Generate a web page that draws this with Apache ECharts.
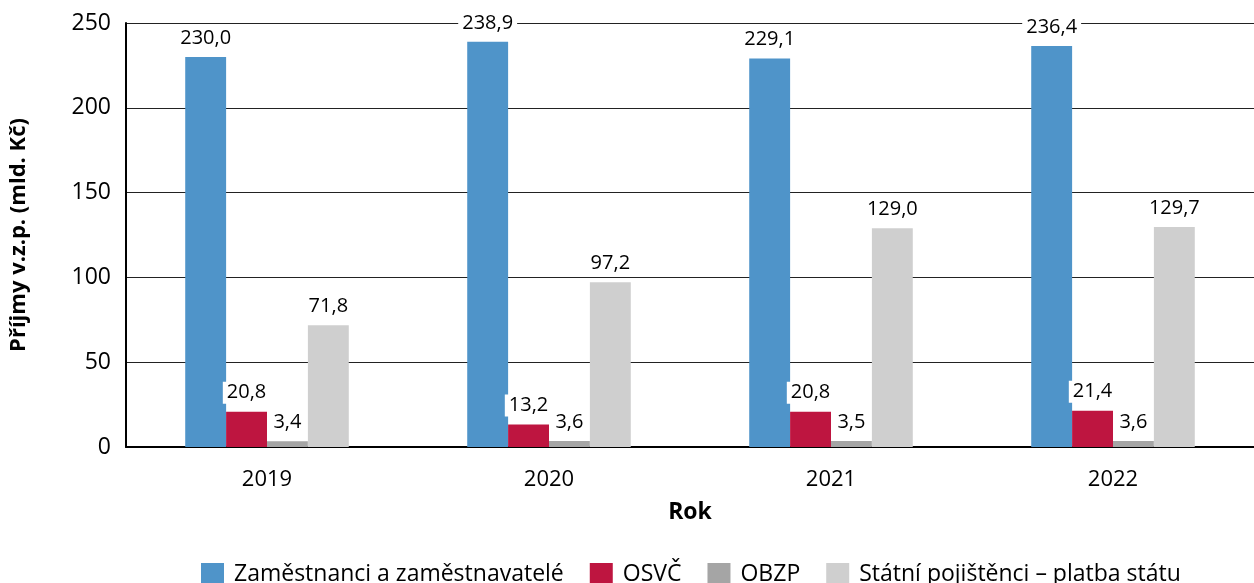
<!DOCTYPE html>
<html><head><meta charset="utf-8">
<script src="https://cdn.jsdelivr.net/npm/echarts@6/dist/echarts.min.js"></script>
<style>html,body{margin:0;padding:0;background:#fff}#c{width:1254px;height:583px}</style>
</head><body><div id="c"></div>
<script>
const categories = ['2019', '2020', '2021', '2022'];
const seriesNames = ['Zaměstnanci a zaměstnavatelé', 'OSVČ', 'OBZP', 'Státní pojištěnci – platba státu'];
const employees = [230.0, 238.9, 229.1, 236.4];
const selfEmployed = [20.8, 13.2, 20.8, 21.4];
const obzp = [3.4, 3.6, 3.5, 3.6];
const stateInsured = [71.8, 97.2, 129.0, 129.7];
const yTicks = [0, 50, 100, 150, 200, 250];
const colors = ['#4f94c9', '#be1540', '#a5a5a5', '#cfcfcf'];
const font = '"Open Sans", "Noto Sans", sans-serif';

const chart = echarts.init(document.getElementById('c'), null, {renderer: 'canvas'});
const values = [employees, selfEmployed, obzp, stateInsured];
const series = values.map((v, i) => ({
  name: seriesNames[i],
  type: 'bar',
  data: v,
  barGap: '0%',
  barCategoryGap: '42%',
  itemStyle: {color: colors[i]},
  label: {
    show: true, position: 'top', distance: 8,
    formatter: p => p.value.toFixed(1).replace('.', ','),
    fontFamily: font, fontSize: 20, color: '#000',
    backgroundColor: '#fff', padding: [1, 4]
  }
}));
chart.setOption({
  animation: false,
  color: colors,
  grid: {left: 119, right: 0, top: 23, bottom: 136, containLabel: false},
  legend: {
    bottom: -8, left: 196, itemWidth: 23, itemHeight: 23, itemGap: 26,
    icon: 'rect',
    textStyle: {fontFamily: font, fontSize: 23, color: '#000', padding: [0, 0, 0, 5]},
    data: seriesNames
  },
  xAxis: {
    type: 'category', data: categories,
    name: 'Rok', nameLocation: 'middle', nameGap: 54,
    nameTextStyle: {fontFamily: font, fontSize: 23, fontWeight: 'bold', color: '#000'},
    axisLine: {lineStyle: {color: '#000', width: 2}},
    axisTick: {show: false},
    axisLabel: {fontFamily: font, fontSize: 22, color: '#000', margin: 22}
  },
  yAxis: {
    type: 'value', min: 0, max: 250, interval: 50,
    name: 'Příjmy v.z.p. (mld. Kč)', nameLocation: 'middle', nameGap: 96, nameRotate: 90,
    nameTextStyle: {fontFamily: font, fontSize: 22, fontWeight: 'bold', color: '#000'},
    axisLine: {show: true, lineStyle: {color: '#000', width: 2}},
    axisTick: {show: false},
    axisLabel: {fontFamily: font, fontSize: 23, color: '#000', margin: 15,
      formatter: v => yTicks.includes(v) ? String(v) : ''},
    splitLine: {lineStyle: {color: '#222', width: 1}}
  },
  series: series
});
</script></body></html>
